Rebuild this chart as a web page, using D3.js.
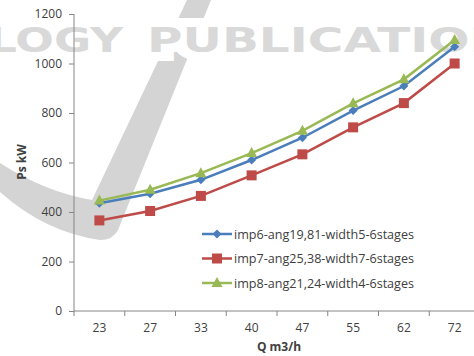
<!DOCTYPE html>
<html>
<head>
<meta charset="utf-8">
<script src="https://cdn.jsdelivr.net/npm/d3@7"></script>
<style>
  body { margin: 0; background: #fff; }
  text { font-family: "Open Sans", sans-serif; fill: #404040; }
</style>
</head>
<body>
<div id="chart"></div>
<script>
// chart data
var flows = ["23", "27", "33", "40", "47", "55", "62", "72"];
var imp6 = [435, 474, 530, 610, 700, 810, 909, 1068];
var imp7 = [366, 404, 465, 548, 633, 742, 840, 1000];
var imp8 = [446, 490, 557, 638, 728, 839, 936, 1095];
var seriesNames = ["imp6-ang19,81-width5-6stages", "imp7-ang25,38-width7-6stages", "imp8-ang21,24-width4-6stages"];
var yTicks = [0, 200, 400, 600, 800, 1000, 1200];

var svgWidth = 474;
var svgHeight = 356;

var margin = { top: 14, left: 74, bottom: 45, right: -6 };
var chartWidth = svgWidth - margin.left - margin.right;
var chartHeight = svgHeight - margin.top - margin.bottom;

var svg = d3.select("#chart")
    .append("svg")
    .attr("width", svgWidth)
    .attr("height", svgHeight);

// watermark behind the chart
var wm = svg.append("g");
wm.append("path")
    .attr("d", "M187,0 L211,0 L118,230 Q113,240 100,240 Q45,232 0,192 L0,163 Q45,192 92,200 Z")
    .attr("fill", "#d4d4d4");
wm.append("text")
    .attr("x", -12).attr("y", 52)
    .attr("textLength", 135).attr("lengthAdjust", "spacingAndGlyphs")
    .style("font-family", "DejaVu Sans").style("font-weight", "bold").style("font-size", "33px")
    .style("fill", "#d9d9d9").style("stroke", "#fff").style("stroke-width", "18px")
    .style("paint-order", "stroke")
    .text("LOGY");
wm.append("text")
    .attr("x", 147).attr("y", 52)
    .attr("textLength", 398).attr("lengthAdjust", "spacingAndGlyphs")
    .style("font-family", "DejaVu Sans").style("font-weight", "bold").style("font-size", "33px")
    .style("fill", "#d9d9d9").style("stroke", "#fff").style("stroke-width", "18px")
    .style("paint-order", "stroke")
    .text("PUBLICATIONS");

var chartGroup = svg.append("g")
    .attr("transform", `translate(${margin.left},${margin.top})`);

var xBand = d3.scaleBand()
    .domain(flows)
    .range([0, chartWidth]);

var yLinearScale = d3.scaleLinear()
    .domain([0, 1200])
    .range([chartHeight, 0]);

var xPos = d => xBand(d) + xBand.bandwidth() / 2;

// y axis
var leftAxis = d3.axisLeft(yLinearScale).tickValues(yTicks).tickFormat(d3.format("d")).tickSize(5).tickPadding(7);
var yAxis = chartGroup.append("g").call(leftAxis);
yAxis.select(".domain").attr("stroke", "#868686").attr("d", `M0,0V${chartHeight}`);
yAxis.selectAll(".tick line").attr("stroke", "#868686");
yAxis.selectAll("text").style("font-size", "12px").style("fill", "#404040");

// x axis with ticks between the categories
var bottomAxis = d3.axisBottom(xBand).tickSize(0).tickPadding(12);
var xAxis = chartGroup.append("g")
    .attr("transform", `translate(0, ${chartHeight})`)
    .call(bottomAxis);
xAxis.select(".domain").attr("stroke", "#868686").attr("d", `M0,0H${chartWidth}`);
xAxis.selectAll("text").style("font-size", "12px").style("fill", "#404040");
xAxis.selectAll("line.sep")
    .data(flows)
    .enter()
    .append("line")
    .attr("class", "sep")
    .attr("x1", d => xBand(d)).attr("x2", d => xBand(d))
    .attr("y1", 0).attr("y2", 5)
    .attr("stroke", "#868686");

var colors = ["#4a7ebb", "#be4b48", "#98b954"];
var allSeries = [imp6, imp7, imp8];

var line = d3.line()
    .x((d, i) => xPos(flows[i]))
    .y(d => yLinearScale(d));

function drawMarker(g, k) {
    if (k === 0) {
        g.append("path").attr("d", "M0,-4.5L4.5,0L0,4.5L-4.5,0Z").attr("fill", colors[0]);
    } else if (k === 1) {
        g.append("rect").attr("x", -5).attr("y", -5).attr("width", 10).attr("height", 10).attr("fill", colors[1]);
    } else {
        g.append("path").attr("d", "M0,-6L5.5,4L-5.5,4Z").attr("fill", colors[2]);
    }
}

// draw order: red, blue, green
[1, 0, 2].forEach(function (k) {
    chartGroup.append("path")
        .datum(allSeries[k])
        .attr("fill", "none")
        .attr("stroke", colors[k])
        .attr("stroke-width", 2.5)
        .attr("d", line);
    chartGroup.selectAll(".m" + k)
        .data(allSeries[k])
        .enter()
        .append("g")
        .attr("class", "m" + k)
        .attr("transform", (d, i) => `translate(${xPos(flows[i])},${yLinearScale(d)})`)
        .each(function () { drawMarker(d3.select(this), k); });
});

// legend
var legend = svg.append("g").attr("transform", "translate(202,234)");
seriesNames.forEach(function (name, k) {
    var row = legend.append("g").attr("transform", `translate(0, ${k * 24.5})`);
    row.append("line")
        .attr("x1", 0).attr("x2", 30)
        .attr("stroke", colors[k]).attr("stroke-width", 2.5);
    var mk = row.append("g").attr("transform", "translate(15,0)");
    drawMarker(mk, k);
    row.append("text")
        .attr("x", 32).attr("y", 4.5)
        .style("font-size", "12.5px")
        .attr("textLength", 180)
        .attr("lengthAdjust", "spacingAndGlyphs")
        .text(name);
});

// axis titles
svg.append("text")
    .attr("transform", "translate(26,162) rotate(-90)")
    .attr("text-anchor", "middle")
    .style("font-size", "12px").style("font-weight", "bold")
    .text("Ps kW");

svg.append("text")
    .attr("x", 279).attr("y", 351)
    .attr("text-anchor", "middle")
    .style("font-size", "12px").style("font-weight", "bold")
    .text("Q m3/h");
</script>
</body>
</html>
